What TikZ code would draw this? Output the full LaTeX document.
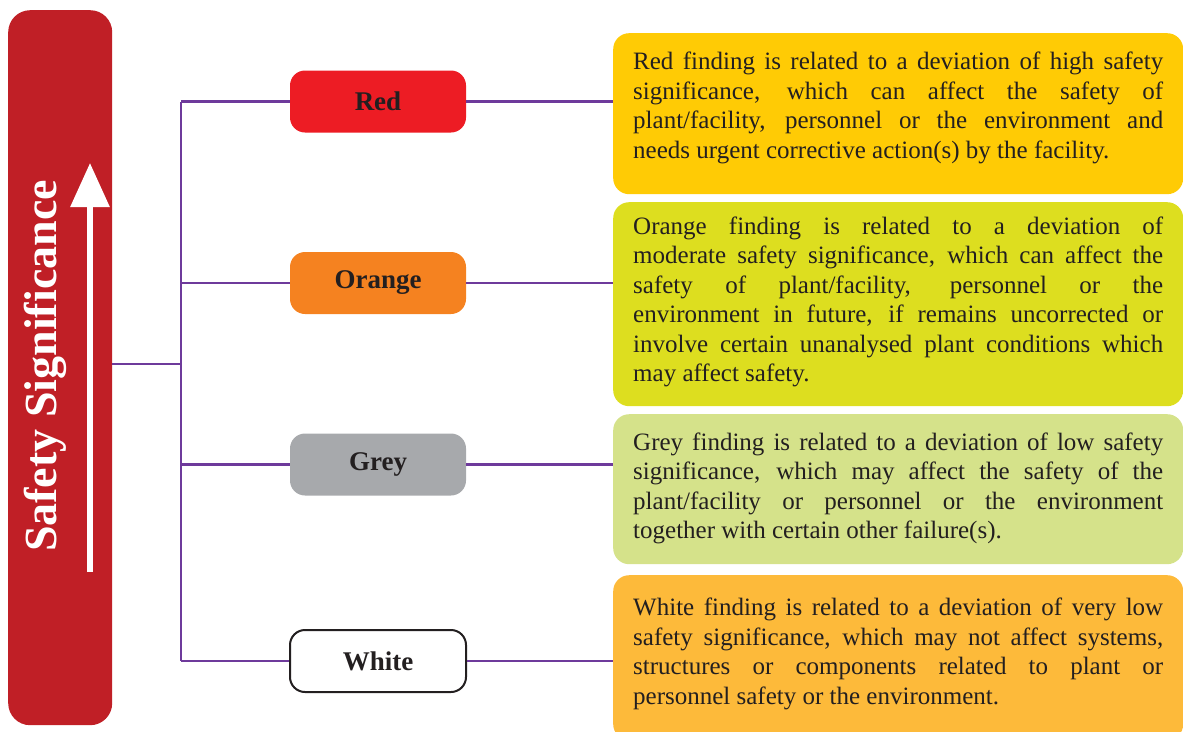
\documentclass[tikz,border=0pt]{standalone}
\usepackage{fontspec}
\setmainfont{Liberation Serif}
\usepackage{tikz}
\usetikzlibrary{arrows.meta,positioning}

\definecolor{barred}{RGB}{192,31,38}
\definecolor{findred}{RGB}{237,28,36}
\definecolor{findorange}{RGB}{245,130,32}
\definecolor{findgrey}{RGB}{167,169,172}
\definecolor{treeline}{RGB}{110,58,155}
\definecolor{noteyellow}{RGB}{255,203,5}
\definecolor{notelime}{RGB}{221,222,31}
\definecolor{notegreen}{RGB}{213,226,138}
\definecolor{noteamber}{RGB}{253,186,58}
\definecolor{inkdark}{RGB}{35,31,32}

\hyphenpenalty=10000

\begin{document}
\begin{tikzpicture}[
    x=1pt, y=-1pt,
    grade/.style={rounded corners=15pt, minimum width=176pt, minimum height=62pt, inner sep=0pt, text=inkdark, font=\fontsize{27}{30}\selectfont\bfseries},
    note/.style={rounded corners=16pt, anchor=north west, minimum width=570pt, text width=530pt, inner sep=0pt, align=justify, text=inkdark, font=\fontsize{25}{29.5}\selectfont},
    lift/.style={execute at end node={\endgraf\vspace*{#1}}},
    wire/.style={draw=treeline, line width=2.6pt},
  ]
    \useasboundingbox (0,0) rectangle (1183,731);

    % left bar with the axis title
    \node[fill=barred, rounded corners=22pt, minimum width=104pt, minimum height=715pt, anchor=north west] (bar) at (8,10) {};
    \node[rotate=90, text=white, font=\fontsize{46}{50}\selectfont\bfseries] (axis) at (45,366) {Safety Significance};
    \coordinate (arrowfoot) at (90,572);
    \coordinate (arrowtip) at (90,163);
    \draw[white, line width=6pt, -{Triangle[length=44pt,width=38pt]}] (arrowfoot) -- (arrowtip);

    % grades
    \node[grade, fill=findred] (red) at (378,101.5) {Red};
    \node[grade, fill=findorange] (orange) at (378,283) {Orange};
    \node[grade, fill=findgrey] (grey) at (378,464.5) {Grey};
    \node[grade, fill=white, draw=inkdark, line width=2pt] (white) at (378,661) {White};

    % descriptions
    \node[note, lift=12pt, fill=noteyellow, minimum height=161pt] (note1) at (613,33) {Red finding is related to a deviation of high safety\linebreak significance, which can affect the safety of\linebreak plant/facility, personnel or the environment and\linebreak needs urgent corrective action(s) by the facility.};
    \node[note, lift=5pt, fill=notelime, minimum height=204pt] (note2) at (613,202) {Orange finding is related to a deviation of\linebreak moderate safety significance, which can affect the\linebreak safety of plant/facility, personnel or the\linebreak environment in future, if remains uncorrected or\linebreak involve certain unanalysed plant conditions which\linebreak may affect safety.};
    \node[note, lift=2pt, fill=notegreen, minimum height=150pt] (note3) at (613,414) {Grey finding is related to a deviation of low safety\linebreak significance, which may affect the safety of the\linebreak plant/facility or personnel or the environment\linebreak together with certain other failure(s).};
    \node[note, lift=8pt, fill=noteamber, minimum height=165pt] (note4) at (613,575) {White finding is related to a deviation of very low\linebreak safety significance, which may not affect systems,\linebreak structures or components related to plant or\linebreak personnel safety or the environment.};

    % tree
    \coordinate (trunk) at (181,364);
    \draw[wire] (bar.east |- trunk) -- (trunk);
    \draw[wire] (trunk |- red) -- (trunk |- white);
    \foreach \g/\n in {red/1, orange/2, grey/3, white/4} {
      \draw[wire] (trunk |- \g) -- (\g.west);
      \draw[wire] (\g.east) -- (\g.east -| note\n.west);
    }
\end{tikzpicture}
\end{document}
